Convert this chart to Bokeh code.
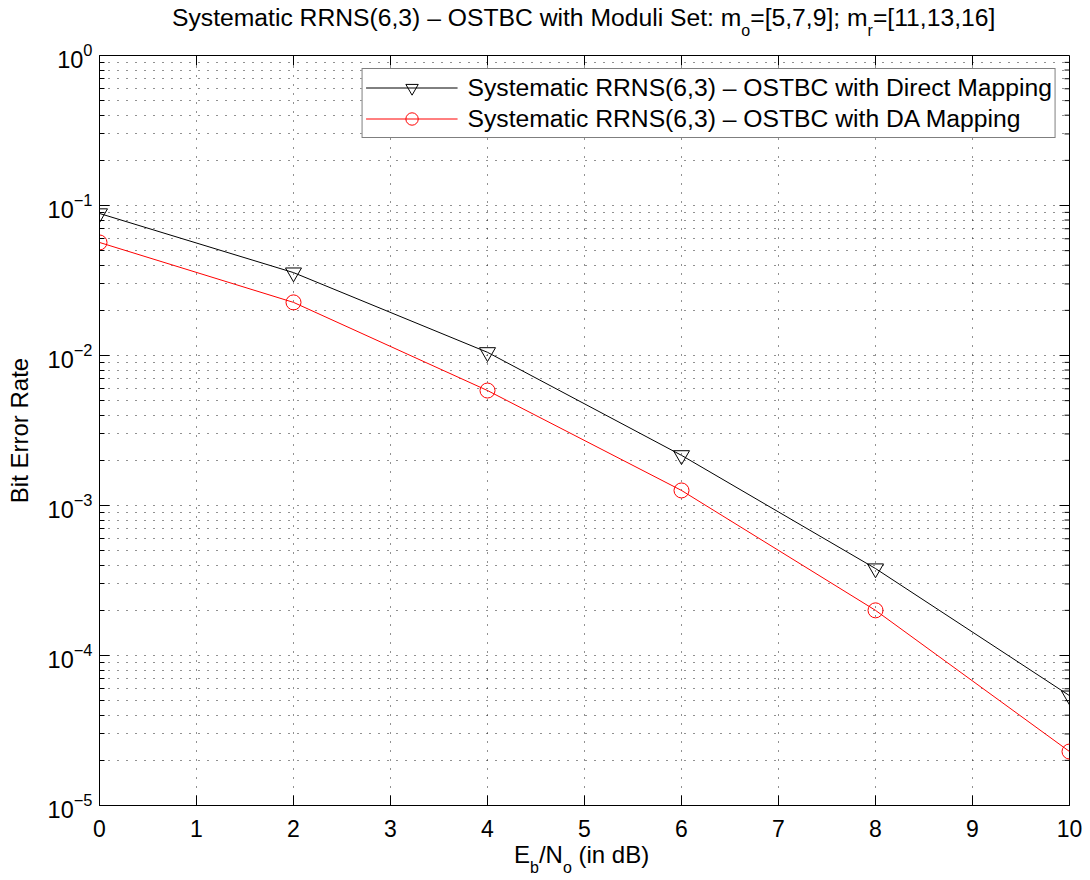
import math
from bokeh.plotting import figure
from bokeh.models import FixedTicker, Div
from bokeh.layouts import column
from bokeh.embed import file_html
from bokeh.resources import INLINE

# ---------------- data ----------------
snr_db = [0, 2, 4, 6, 8, 10]
ber_direct = [0.0885, 0.0357, 0.0105, 0.00216, 0.00038, 5.4e-5]
ber_da = [0.0567, 0.0226, 0.00584, 0.00126, 0.000200, 2.29e-5]
label_direct = "Systematic RRNS(6,3) \u2013 OSTBC with Direct Mapping"
label_da = "Systematic RRNS(6,3) \u2013 OSTBC with DA Mapping"
x_ticks = list(range(0, 11))
y_ticks = [1e-5, 1e-4, 1e-3, 1e-2, 1e-1, 1.0]
y_minor = [m * 10.0 ** e for e in range(-5, 0) for m in range(2, 10)]

FONT = "Liberation Sans"

# ---------------- layout (pixels) ----------------
W, H = 1090, 880
TITLE_H, XLAB_H = 40, 34
FIG_H = H - TITLE_H - XLAB_H
F_LEFT, F_RIGHT = 99, 1069
F_TOP, F_BOTTOM = 55 - TITLE_H, 805 - TITLE_H
X0, X1 = 0, 10
LOG_Y0, LOG_Y1 = -5, 0

p = figure(width=W, height=FIG_H, y_axis_type="log", title=None,
           x_range=(X0, X1), y_range=(10 ** LOG_Y0, 10 ** LOG_Y1),
           min_border_left=F_LEFT, min_border_right=W - F_RIGHT,
           min_border_top=F_TOP, min_border_bottom=FIG_H - F_BOTTOM,
           output_backend="svg", toolbar_location=None)
p.outline_line_color = "black"
p.outline_line_width = 1
p.background_fill_color = "white"
p.border_fill_color = "white"

xt = FixedTicker(ticks=x_ticks)
yt = FixedTicker(ticks=y_ticks, minor_ticks=y_minor)

for ax in p.xaxis:
    ax.ticker = xt
    ax.major_tick_in = 10
    ax.major_tick_out = 0
    ax.minor_tick_in = 0
    ax.minor_tick_out = 0
    ax.major_label_text_font = FONT
    ax.major_label_text_font_size = "23px"
    ax.major_label_text_color = "black"
    ax.major_label_standoff = 14
    ax.axis_line_color = "black"
for ax in p.yaxis:
    ax.ticker = yt
    ax.major_tick_in = 10
    ax.major_tick_out = 0
    ax.minor_tick_in = 5
    ax.minor_tick_out = 0
    ax.major_label_text_font = FONT
    ax.major_label_text_font_size = "23.5px"
    ax.major_label_text_color = "black"
    ax.major_label_standoff = 7
    ax.axis_line_color = "black"
    ax.axis_label = "Bit Error Rate"
    ax.axis_label_text_font = FONT
    ax.axis_label_text_font_size = "24px"
    ax.axis_label_text_font_style = "normal"
    ax.axis_label_text_color = "black"
    ax.axis_label_standoff = 12

# grids (MATLAB-like dotted)
p.xgrid.ticker = xt
p.ygrid.ticker = yt
for g in (p.xgrid, p.ygrid):
    g.grid_line_color = "#222222"
    g.grid_line_dash = "1 8"
    g.grid_line_width = 1
p.ygrid.minor_grid_line_color = "#222222"
p.ygrid.minor_grid_line_dash = "1 8"
p.ygrid.minor_grid_line_width = 1

# inward ticks on the top and right edges of the box
p.ray(x=x_ticks, y=[10 ** LOG_Y1] * len(x_ticks), length=10, angle=-math.pi / 2,
      length_units="screen", line_color="black", line_width=1)
p.ray(x=[X1] * len(y_ticks), y=y_ticks, length=10, angle=math.pi,
      length_units="screen", line_color="black", line_width=1)
p.ray(x=[X1] * len(y_minor), y=y_minor, length=5, angle=math.pi,
      length_units="screen", line_color="black", line_width=1)

# series
p.line(snr_db, ber_direct, line_color="black", line_width=1, legend_label=label_direct)
p.scatter(snr_db, ber_direct, marker="inverted_triangle", size=16, fill_color=None,
          line_color="black", line_width=1, legend_label=label_direct)
p.line(snr_db, ber_da, line_color="#ff0000", line_width=1, legend_label=label_da)
p.scatter(snr_db, ber_da, marker="circle", size=15, fill_color=None,
          line_color="#ff0000", line_width=1, legend_label=label_da)

lg = p.legend[0]
lg.location = "top_right"
lg.margin = 13
lg.padding = 3
lg.spacing = 0
lg.glyph_width = 92
lg.glyph_height = 31
lg.label_height = 30
lg.label_standoff = 10
lg.label_text_font = FONT
lg.label_text_font_size = "24.7px"
lg.label_text_color = "black"
lg.border_line_color = "black"
lg.border_line_width = 1
lg.background_fill_color = "white"
lg.background_fill_alpha = 1.0

SUB = "font-size:16px; position:relative; top:10px; line-height:0;"

title_html = (
    f'<div style="padding-left:172px; padding-top:6px; white-space:nowrap; '
    f'line-height:24px; font-family:\'{FONT}\'; font-size:24.7px; color:black;">'
    f'Systematic RRNS(6,3) \u2013 OSTBC with Moduli Set: m<span style="{SUB}">o</span>'
    f'=[5,7,9]; m<span style="{SUB}">r</span>=[11,13,16]</div>'
)
xlab_html = (
    f'<div style="padding-left:514px; position:relative; top:-3px; white-space:nowrap; '
    f'line-height:24px; font-family:\'{FONT}\'; font-size:24px; color:black;">'
    f'E<span style="{SUB}">b</span>/N<span style="{SUB}">o</span> (in dB)</div>'
)

title_div = Div(text=title_html, width=W, height=TITLE_H,
                styles={"background": "white", "margin": "0", "padding": "0"})
xlab_div = Div(text=xlab_html, width=W, height=XLAB_H,
               styles={"background": "white", "margin": "0", "padding": "0"})

layout = column(title_div, p, xlab_div, spacing=0)

open("out.html", "w").write(file_html(layout, INLINE))
